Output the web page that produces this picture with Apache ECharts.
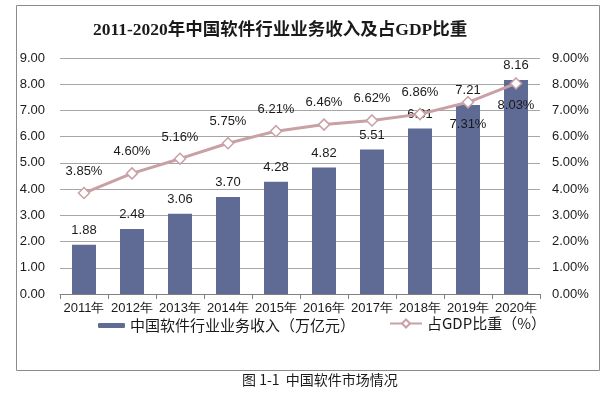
<!DOCTYPE html>
<html><head><meta charset="utf-8">
<script src="https://cdn.jsdelivr.net/npm/echarts@6/dist/echarts.min.js"></script>
<style>html,body{margin:0;padding:0;background:#fff}#c{width:616px;height:393px}</style>
</head><body><div id="c"></div>
<script>
const categories = ['2011年','2012年','2013年','2014年','2015年','2016年','2017年','2018年','2019年','2020年'];
const revenue = [1.88, 2.48, 3.06, 3.70, 4.28, 4.82, 5.51, 6.31, 7.21, 8.16];
const gdpShare = [3.85, 4.60, 5.16, 5.75, 6.21, 6.46, 6.62, 6.86, 7.31, 8.03];
const belowLabelYears = ['2019年','2020年'];
const barName = '中国软件行业业务收入（万亿元）';
const lineName = '占GDP比重（%）';

const chart = echarts.init(document.getElementById('c'));
const axisFont = {fontFamily:'Liberation Sans, Arial, sans-serif', fontSize:13, color:'#1a1a1a'};
chart.setOption({
  animation:false,
  backgroundColor:'#fff',
  title:{text:'2011-2020年中国软件行业业务收入及占GDP比重', left:88, top:17,
    textStyle:{fontFamily:'Liberation Serif, Noto Sans CJK SC, serif', fontWeight:'bold', fontSize:17.5, color:'#1a1a1a'}},
  grid:{left:60, right:76, top:58, bottom:99},
  legend:[
    {data:[barName], left:93, top:313, itemWidth:27, itemHeight:5, itemGap:4,
      textStyle:{fontFamily:'Noto Sans CJK SC, sans-serif', fontSize:15, color:'#1a1a1a'}},
    {data:[lineName], left:384, top:311, itemWidth:32, itemHeight:10,
      textStyle:{fontFamily:'Noto Sans CJK SC, sans-serif', fontSize:15, color:'#1a1a1a'}}
  ],
  xAxis:{type:'category', data:categories, boundaryGap:true,
    axisLine:{lineStyle:{color:'#808080'}}, axisTick:{show:true, alignWithLabel:false, length:5, lineStyle:{color:'#808080'}},
    axisLabel:Object.assign({margin:8, interval:0}, axisFont)},
  yAxis:[
    {type:'value', min:0, max:9, interval:1, axisLine:{show:false}, axisTick:{show:false},
      splitLine:{lineStyle:{color:'#a6a6a6'}},
      axisLabel:Object.assign({margin:15, formatter:v=>v.toFixed(2)}, axisFont)},
    {type:'value', min:0, max:9, interval:1, axisLine:{show:false}, axisTick:{show:false},
      splitLine:{show:false},
      axisLabel:Object.assign({margin:12, formatter:v=>v.toFixed(2)+'%'}, axisFont)}
  ],
  series:[
    {name:barName, type:'bar', data:revenue, barWidth:'50%', itemStyle:{color:'#5f6a95'},
      label:{show:true, position:'top', distance:8, formatter:p=>p.value.toFixed(2), fontFamily:'Liberation Sans, Arial, sans-serif', fontSize:13, color:'#1a1a1a'}},
    {name:lineName, type:'line', yAxisIndex:1,
      data:gdpShare.map((v,i)=>({value:v, label:{position: belowLabelYears.includes(categories[i]) ? 'bottom' : 'top'}})),
      symbol:'diamond', symbolSize:11, showAllSymbol:true,
      lineStyle:{color:'#c9a0a3', width:3},
      itemStyle:{color:'#ffffff', borderColor:'#c9a0a3', borderWidth:1.5},
      label:{show:true, distance:9, formatter:p=>p.value.toFixed(2)+'%', fontFamily:'Liberation Sans, Arial, sans-serif', fontSize:13, color:'#1a1a1a'}}
  ],
  graphic:[
    {type:'rect', shape:{x:16.5, y:5.5, width:583, height:365}, style:{fill:'none', stroke:'#8c8c8c', lineWidth:1}, silent:true, z:-1},
    {type:'text', left:242, top:373, style:{text:'图 1-1  中国软件市场情况', fontFamily:'Noto Sans CJK SC, serif', fontSize:14, fill:'#1a1a1a'}}
  ]
});
</script></body></html>
